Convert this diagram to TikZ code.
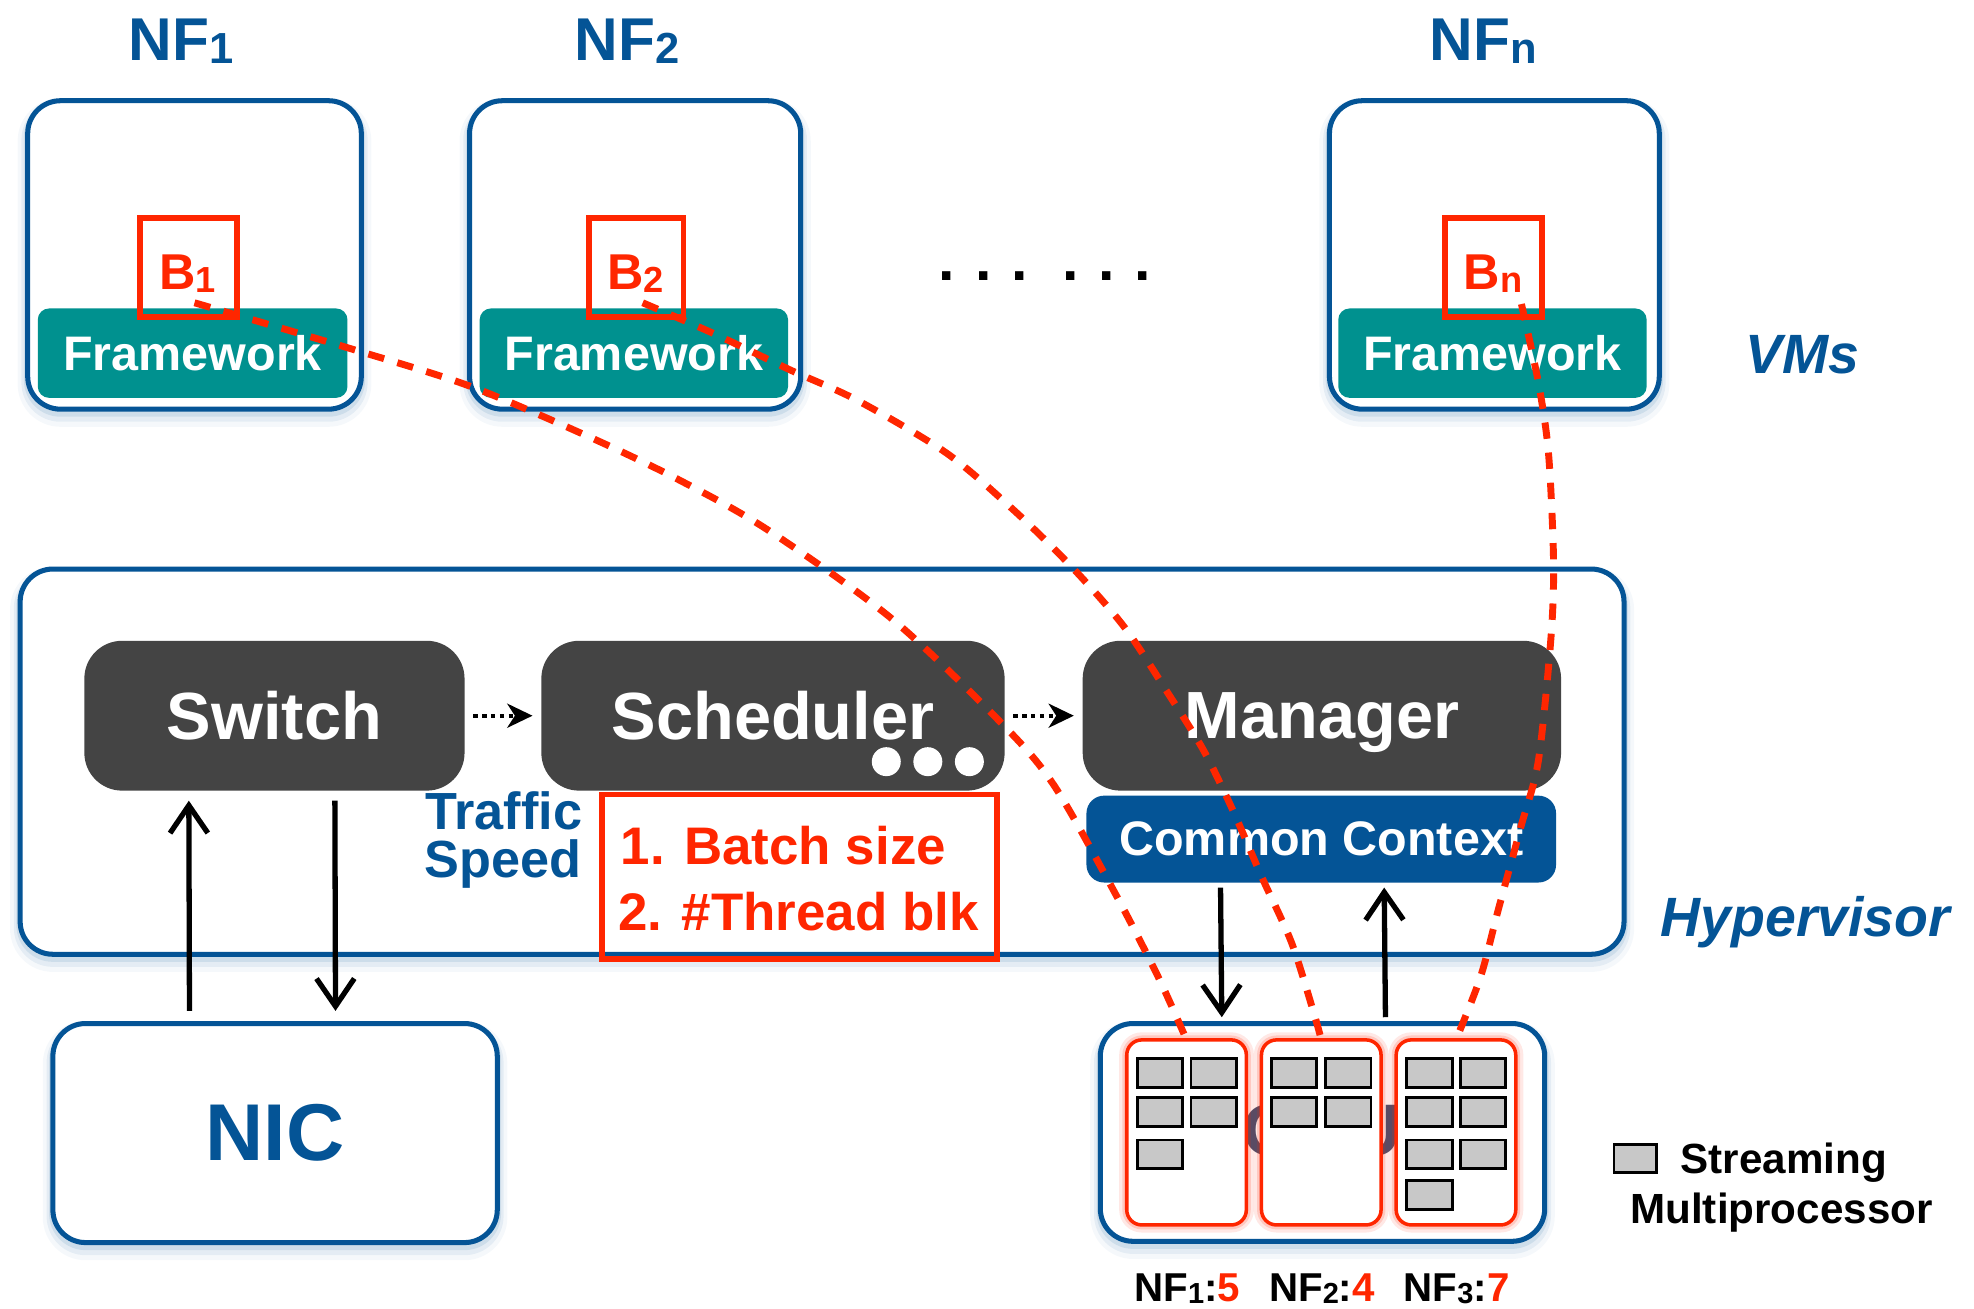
\documentclass[tikz,border=0pt]{standalone}
\usepackage{fontspec}
\setmainfont{Liberation Sans}
\usepackage{graphicx}
\usetikzlibrary{arrows.meta}

\definecolor{hvblue}{RGB}{4,84,150}
\definecolor{fwteal}{RGB}{0,145,143}
\definecolor{boxgray}{RGB}{68,68,68}
\definecolor{hotred}{RGB}{255,38,0}
\definecolor{smgray}{RGB}{200,200,200}
\definecolor{gpuink}{RGB}{72,80,112}

% bold text at a given size (pt)
\newcommand{\fsz}[1]{\fontsize{#1}{#1}\selectfont\bfseries}
% small lowered index
\newcommand{\lsub}[1]{\raisebox{-0.05em}{\scalebox{0.72}{#1}}}

\begin{document}
\begin{tikzpicture}[x=1pt,y=-1pt,
  every node/.style={inner sep=0pt, outer sep=0pt},
  blueglow/.style={
    preaction={draw=hvblue!50, line width=16pt, opacity=0.08, transform canvas={yshift=-6pt}},
    preaction={draw=hvblue!60, line width=10pt, opacity=0.12, transform canvas={yshift=-5pt}},
    preaction={draw=hvblue!70, line width=6pt, opacity=0.15, transform canvas={yshift=-3pt}}},
  bluebox/.style={draw=hvblue, line width=4pt, fill=white, rounded corners=26pt, blueglow},
  fwbar/.style={fill=fwteal, rounded corners=9pt, text=white, font=\fsz{38.5}},
  bbox/.style={draw=hotred, line width=4.5pt},
  btext/.style={text=hotred, font=\fsz{40}, anchor=base},
  nflabel/.style={text=hvblue, font=\fsz{48}, anchor=base},
  darkbox/.style={fill=boxgray, rounded corners=30pt, text=white, font=\fsz{53},
    minimum width=#1, minimum height=119pt, text depth=0pt},
  layer/.style={text=hvblue, font=\fsz{44}\itshape, anchor=base},
  dotarr/.style={line width=3.5pt, dash pattern=on 3.5pt off 3.5pt,
    -{Stealth[length=20pt, width=19pt, inset=6pt]}, shorten <=7pt, shorten >=7pt},
  arr/.style={line width=4.2pt, -{Straight Barb[length=22pt, width=30pt, line width=4.2pt]}},
  gpucell/.style={draw=hotred, line width=2.8pt, fill=white, rounded corners=12pt,
    preaction={draw=hotred, line width=12pt, opacity=0.10},
    preaction={draw=hotred, line width=7pt, opacity=0.16},
    minimum width=95pt, minimum height=147pt},
  sm/.style={draw=black, line width=2.3pt, fill=smgray, minimum width=36pt, minimum height=23pt},
  trail/.style={draw=hotred, line width=5.5pt, dash pattern=on 13pt off 11pt}
]
\useasboundingbox (0,0) rectangle (1568,1039);

% ---------- virtual machines ----------
\node[nflabel] (nf1) at (144,48) {NF\lsub{1}};
\node[nflabel] (nf2) at (498,48) {NF\lsub{2}};
\node[nflabel] (nfn) at (1178,48) {NF\lsub{n}};

\node[bluebox, minimum width=265pt, minimum height=245pt] (vm1) at (154.5,202.5) {};
\node[bluebox, minimum width=263pt, minimum height=245pt] (vm2) at (504.5,202.5) {};
\node[bluebox, minimum width=262pt, minimum height=245pt] (vmn) at (1187,202.5) {};

\node[fwbar, minimum width=246pt, minimum height=71pt] (fw1) at (153,280.5) {Framework};
\node[fwbar, minimum width=245pt, minimum height=71pt] (fw2) at (503.5,280.5) {Framework};
\node[fwbar, minimum width=245pt, minimum height=71pt] (fwn) at (1185.5,280.5) {Framework};

\node[bbox, minimum width=77pt, minimum height=79pt] (b1) at (149.5,212.5) {};
\node[bbox, minimum width=75pt, minimum height=79pt] (b2) at (505.5,212.5) {};
\node[bbox, minimum width=77pt, minimum height=79pt] (bn) at (1186.5,212.5) {};
\node[btext] (b1t) at (149,230) {B\lsub{1}};
\node[btext] (b2t) at (505,230) {B\lsub{2}};
\node[btext] (bnt) at (1186,230) {B\lsub{n}};

\node[font=\fsz{47}, anchor=base] (dotsa) at (781,223) {.\,\,.\,\,.};
\node[font=\fsz{47}, anchor=base] (dotsb) at (879,223) {.\,\,.\,\,.};

\node[layer] (vms) at (1432,296.5) {VMs};

% ---------- hypervisor ----------
\node[bluebox, minimum width=1274pt, minimum height=306pt] (hyp) at (653,605) {};
\node[layer] (hyplabel) at (1434,744) {Hypervisor};

\node[darkbox=302pt] (switch) at (218,568.5) {Switch};
\node[darkbox=368pt] (sched) at (614,568.5) {Scheduler};
\node[darkbox=380pt] (manager) at (1050,568.5) {Manager};

\node[circle, fill=white, minimum size=23pt] (sd1) at (704,605) {};
\node[circle, fill=white, minimum size=23pt] (sd2) at (737,605) {};
\node[circle, fill=white, minimum size=23pt] (sd3) at (770,605) {};

\draw[dotarr] (switch.east) -- (sched.west);
\draw[dotarr] (sched.east) -- (manager.west);

\node[fill=hvblue, rounded corners=14pt, text=white, font=\fsz{38.5},
  minimum width=373pt, minimum height=69pt] (ctx) at (1049.5,666.5) {Common Context};

\node[text=hvblue, font=\fsz{41.5}, anchor=base west] (traffic) at (338,659) {Traffic};
\node[text=hvblue, font=\fsz{41.5}, anchor=base west] (speed) at (337,697) {Speed};

\node[bbox, minimum width=314pt, minimum height=131pt] (params) at (635,696.5) {};
\node[text=hotred, font=\fsz{42}, anchor=base west] (p1) at (493,687) {1. Batch size};
\node[text=hotred, font=\fsz{42}, anchor=base west] (p2) at (491,739) {2. \#Thread blk};

% ---------- NIC ----------
\node[bluebox, minimum width=353pt, minimum height=174pt, text=hvblue, font=\fsz{64}]
  (nic) at (218.5,900) {NIC};

\draw[arr] ([xshift=-68pt,yshift=10pt]nic.north) -- ([xshift=-68pt,yshift=-8pt]switch.south);
\draw[arr] ([xshift=48pt,yshift=-8pt]switch.south) -- ([xshift=48pt,yshift=10pt]nic.north);

% ---------- GPU ----------
\node[bluebox, minimum width=353pt, minimum height=173pt] (gpu) at (1050.5,899.5) {};
\node[text=gpuink, font=\fsz{58}] (gpuname) at (1050,898) {GPU};

\node[gpucell] (g1) at (942.5,899.5) {};
\node[gpucell] (g2) at (1049.5,899.5) {};
\node[gpucell] (g3) at (1156.5,899.5) {};

\draw[arr] ([xshift=-80pt,yshift=-4pt]ctx.south) -- ([xshift=-80pt,yshift=5pt]gpu.north);
\draw[arr] ([xshift=50pt,yshift=5pt]gpu.north) -- ([xshift=50pt,yshift=-4pt]ctx.south);

% streaming multiprocessors per partition
\node[sm] (s11) at (921.5,852) {};
\node[sm] (s12) at (964,852) {};
\node[sm] (s13) at (921.5,883.5) {};
\node[sm] (s14) at (964,883.5) {};
\node[sm] (s15) at (921.5,917) {};

\node[sm] (s21) at (1028,852) {};
\node[sm] (s22) at (1071,852) {};
\node[sm] (s23) at (1028,883.5) {};
\node[sm] (s24) at (1071,883.5) {};

\node[sm] (s31) at (1135.5,852) {};
\node[sm] (s32) at (1178,852) {};
\node[sm] (s33) at (1135.5,883.5) {};
\node[sm] (s34) at (1178,883.5) {};
\node[sm] (s35) at (1135.5,917) {};
\node[sm] (s36) at (1178,917) {};
\node[sm] (s37) at (1135.5,949.5) {};

\node[font=\fsz{32}, anchor=base] (c1) at (943,1034) {NF\lsub{1}:\textcolor{hotred}{5}};
\node[font=\fsz{32}, anchor=base] (c2) at (1050,1034) {NF\lsub{2}:\textcolor{hotred}{4}};
\node[font=\fsz{32}, anchor=base] (c3) at (1157,1034) {NF\lsub{3}:\textcolor{hotred}{7}};

% legend
\node[sm, minimum width=34pt, minimum height=22pt] (legsm) at (1299,920) {};
\node[font=\fsz{33.5}, anchor=base west] (leg1) at (1335,932) {Streaming};
\node[font=\fsz{33.5}, anchor=base west] (leg2) at (1295,972) {Multiprocessor};

% ---------- batch-size links from each VM to its GPU share ----------
\coordinate (s1) at ([xshift=5pt,yshift=-28pt]b1.center);
\coordinate (s2) at ([xshift=5pt,yshift=-28pt]b2.center);
\coordinate (sn) at ([xshift=22pt,yshift=-29pt]bn.center);

\draw[trail] plot[smooth] coordinates {(s1) (282,278) (374,307) (468,347) (539,381)
  (610,421) (709,492) (798,577) (838,625) (886,710) (920,776) (g1.north)};
\draw[trail] plot[smooth] coordinates {(s2) (567,265) (628,294) (681,318) (752,360)
  (805,405) (851,450) (893,498) (928,551) (956,596) (979,643) (1002,696) (1026,749)
  (1044,806) (g2.north)};
\draw[trail] plot[smooth] coordinates {(sn) (1222,304) (1230,360) (1234,445) (1232,506)
  (1222,604) (1208,657) (1190,723) (1176,776) (g3.north)};
\end{tikzpicture}
\end{document}
